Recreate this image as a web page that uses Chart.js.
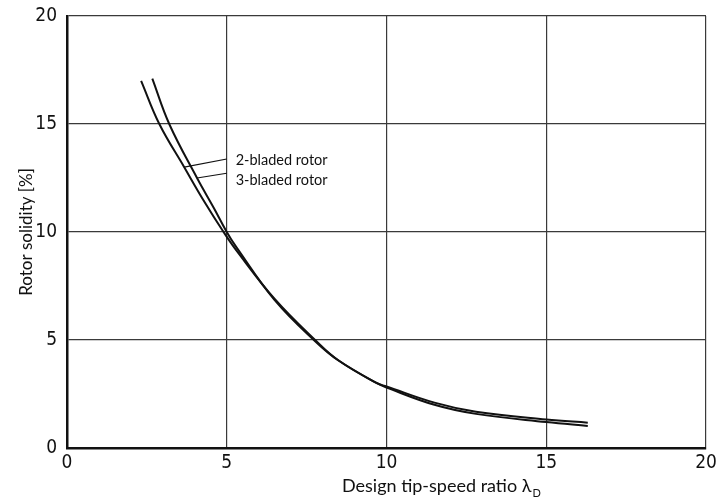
<!DOCTYPE html>
<html lang="en">
<head>
    <meta charset="UTF-8">
    <title>Rotor solidity vs design tip-speed ratio</title>
    <script src="https://cdn.jsdelivr.net/npm/chart.js"></script>
    <style>
        html, body { margin: 0; padding: 0; background: #fff; }
        #wrap { width: 719px; height: 499px; position: relative; }
    </style>
</head>
<body>
    <div id="wrap"><canvas id="chart"></canvas></div>

    <script>
        // Values
        const twoBladedX = [2.32, 2.89, 3.67, 4.3, 4.9, 5.3, 6.5, 7.8, 8.5, 9.7, 10.0, 11.5, 12.8, 15.0, 16.3];
        const twoBladedY = [17.0, 15.0, 13.0, 11.4, 10.0, 9.15, 6.9, 4.95, 4.05, 3.0, 2.85, 2.1, 1.68, 1.32, 1.17];
        const threeBladedX = [2.67, 3.2, 4.07, 4.6, 5.0, 5.3, 6.5, 7.8, 8.5, 9.7, 10.0, 11.5, 12.8, 15.0, 16.3];
        const threeBladedY = [17.1, 15.0, 12.5, 11.1, 10.0, 9.3, 6.85, 4.9, 4.05, 3.0, 2.8, 2.0, 1.58, 1.2, 1.02];
        const tickValues = [0, 5, 10, 15, 20];

        // Curve labels with leader lines (data units)
        const curveLabels = [
            { text: '2-bladed rotor', from: [3.67, 13.0], to: [5.0, 13.38], textX: 5.28, textY: 13.3 },
            { text: '3-bladed rotor', from: [4.07, 12.5], to: [5.0, 12.72], textX: 5.28, textY: 12.4 }
        ];

        const toPoints = (xs, ys) => xs.map((x, i) => ({ x: x, y: ys[i] }));

        const tickFont = { family: "'Liberation Sans Narrow', 'DejaVu Sans Condensed', sans-serif", size: 19 };
        const textFont = "Lato, 'Open Sans', sans-serif";

        // Draws curve labels, leader lines and both axis titles
        const annotate = {
            id: 'annotate',
            afterDraw(chart) {
                const ctx = chart.ctx;
                const xs = chart.scales.x, ys = chart.scales.y;
                const area = chart.chartArea;
                ctx.save();
                ctx.strokeStyle = '#111';
                ctx.fillStyle = '#111';
                ctx.lineWidth = 1.2;
                ctx.font = '14.5px ' + textFont;
                ctx.textBaseline = 'middle';
                ctx.textAlign = 'left';
                curveLabels.forEach(l => {
                    ctx.beginPath();
                    ctx.moveTo(xs.getPixelForValue(l.from[0]), ys.getPixelForValue(l.from[1]));
                    ctx.lineTo(xs.getPixelForValue(l.to[0]), ys.getPixelForValue(l.to[1]));
                    ctx.stroke();
                    ctx.fillText(l.text, xs.getPixelForValue(l.textX), ys.getPixelForValue(l.textY));
                });

                // x axis title with subscript
                ctx.font = '18px ' + textFont;
                ctx.textBaseline = 'alphabetic';
                const main = 'Design tip-speed ratio \u03bb';
                const w = ctx.measureText(main).width;
                const startX = 342;
                ctx.fillText(main, startX, 492);
                ctx.font = '11px ' + textFont;
                ctx.fillText('D', startX + w + 1, 497);

                // y axis title
                ctx.font = '17px ' + textFont;
                ctx.translate(27, (area.top + area.bottom) / 2);
                ctx.rotate(-Math.PI / 2);
                ctx.textAlign = 'center';
                ctx.textBaseline = 'middle';
                ctx.fillText('Rotor solidity [%]', 0, 0);
                ctx.restore();
            }
        };

        new Chart(document.getElementById('chart'), {
            type: 'scatter',
            data: {
                datasets: [
                    {
                        label: '2-bladed rotor',
                        data: toPoints(twoBladedX, twoBladedY),
                        showLine: true,
                        borderColor: '#111',
                        borderWidth: 2,
                        pointRadius: 0,
                        tension: 0.4
                    },
                    {
                        label: '3-bladed rotor',
                        data: toPoints(threeBladedX, threeBladedY),
                        showLine: true,
                        borderColor: '#111',
                        borderWidth: 2,
                        pointRadius: 0,
                        tension: 0.4
                    }
                ]
            },
            options: {
                responsive: true,
                maintainAspectRatio: false,
                animation: false,
                layout: { padding: { top: 16, right: 13, left: 0, bottom: 0 } },
                plugins: {
                    legend: { display: false },
                    tooltip: { enabled: false }
                },
                scales: {
                    x: {
                        type: 'linear',
                        min: 0,
                        max: 20,
                        afterBuildTicks: s => { s.ticks = tickValues.map(v => ({ value: v })); },
                        afterFit: s => { s.height = 51; s.paddingLeft = 0; s.paddingRight = 0; },
                        ticks: { font: tickFont, color: '#111', padding: 4, maxRotation: 0 },
                        grid: { color: '#3a3a3a', lineWidth: 1.2, drawTicks: false },
                        border: { color: '#111', width: 2.5 }
                    },
                    y: {
                        type: 'linear',
                        min: 0,
                        max: 20,
                        afterBuildTicks: s => { s.ticks = tickValues.map(v => ({ value: v })); },
                        afterFit: s => { s.width = 67; s.paddingTop = 0; s.paddingBottom = 0; },
                        ticks: { font: tickFont, color: '#111', padding: 10 },
                        grid: { color: '#3a3a3a', lineWidth: 1.2, drawTicks: false },
                        border: { color: '#111', width: 2.5 }
                    }
                }
            },
            plugins: [annotate]
        });
    </script>
</body>
</html>
